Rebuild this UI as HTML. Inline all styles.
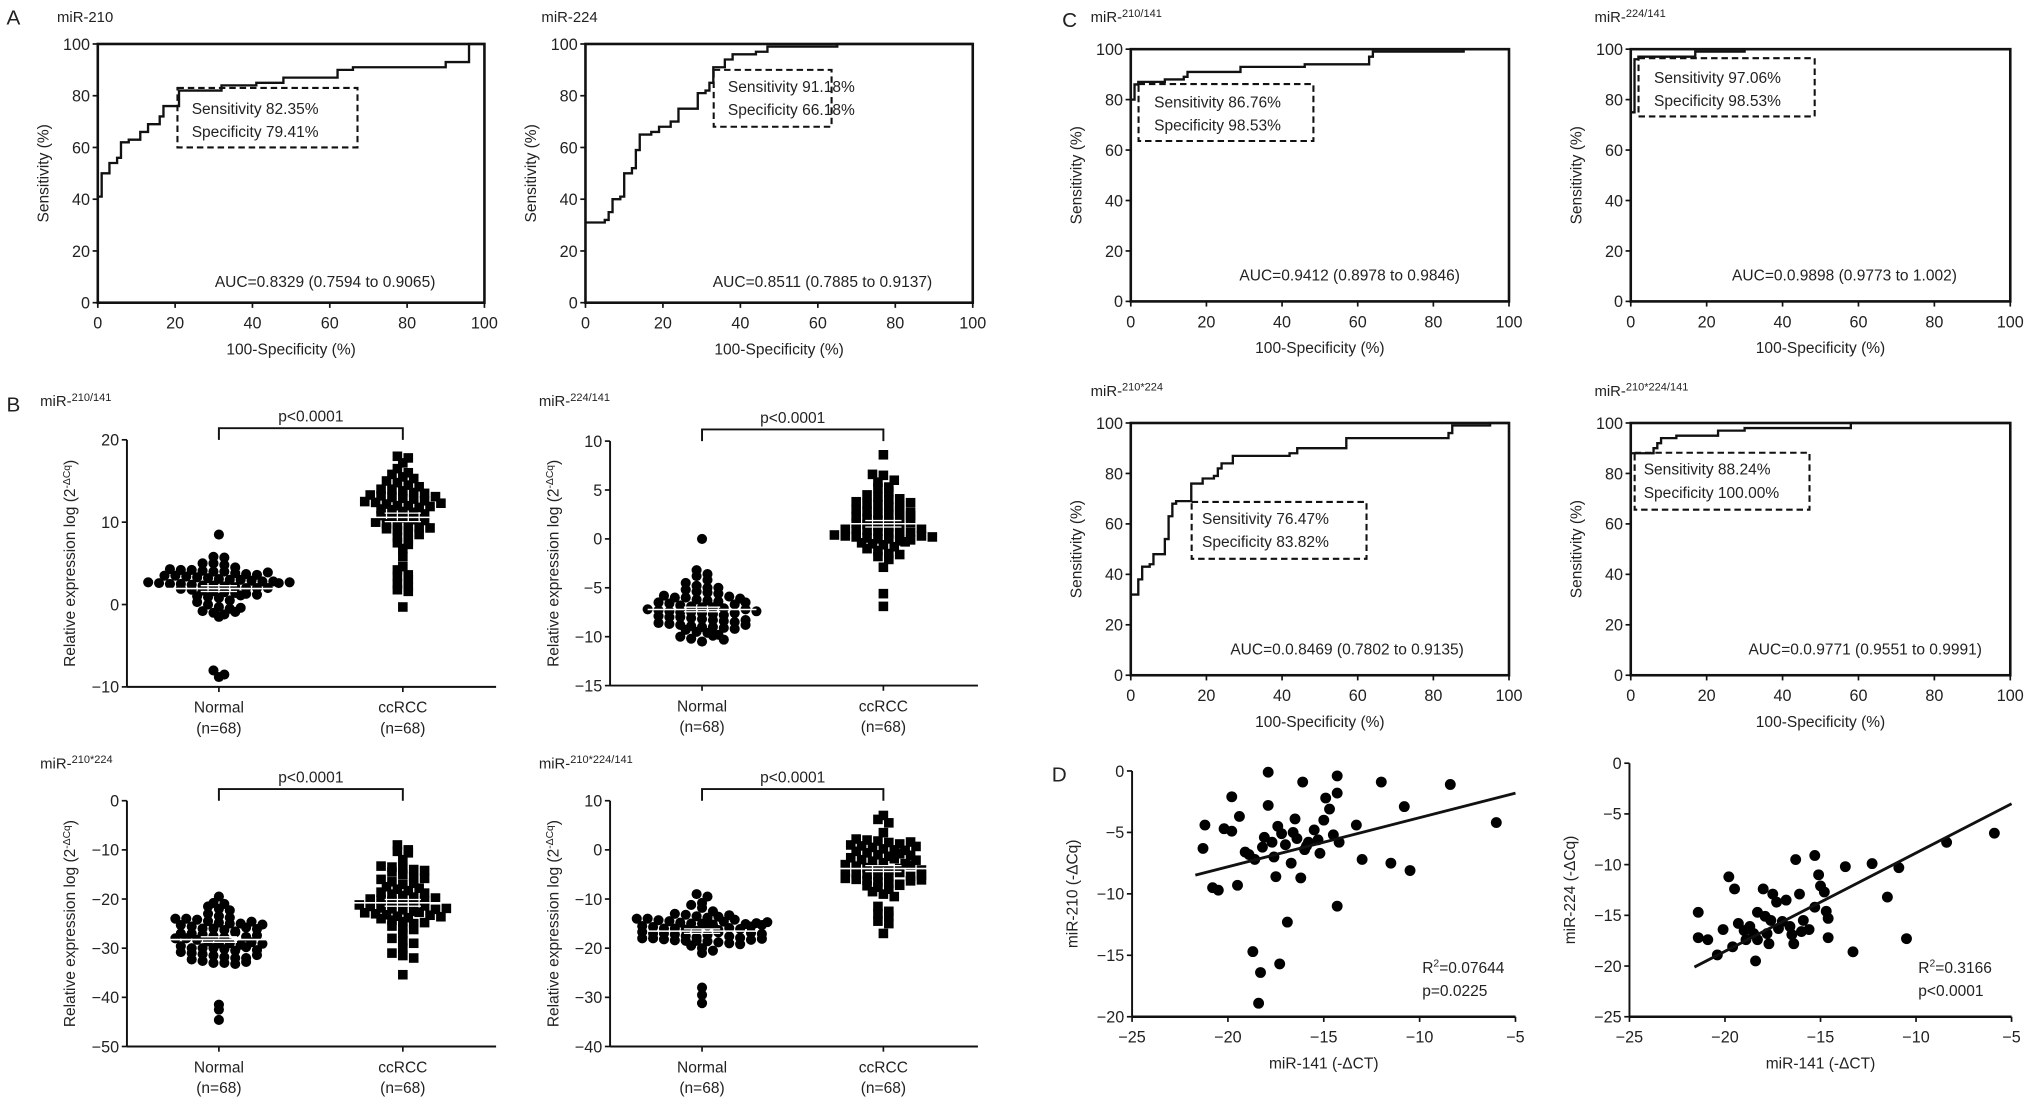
<!DOCTYPE html>
<html><head><meta charset="utf-8"><style>
html,body{margin:0;padding:0;background:#fff;}
svg{display:block;font-family:"Liberation Sans",Arial,sans-serif;}
</style></head><body>
<svg id="fig" width="2031" height="1106" viewBox="0 0 1568 855" preserveAspectRatio="none" xmlns="http://www.w3.org/2000/svg"></svg>
<script>
// ---------- ROC data (x = 100-specificity %, y = sensitivity %) ----------
const rocA1x=[0,0,1,1,3,3,5,5,6,6,8,8,11,11,13,13,16,16,17,17,21,21,32,32,41,41,48,48,62,62,66,66,90,90,96,96,100];
const rocA1y=[40,41,41,50,50,54,54,56,56,62,62,63,63,66,66,69,69,72,72,76,76,82,82,84,84,85,85,87,87,90,90,91,91,93,93,100,100];
const rocA2x=[0,5,5,6,6,7,7,9,9,10,10,12,12,13,13,14,14,17,17,19,19,22,22,24,24,29,29,31,31,32,32,33,33,36,36,38,38,44,44,47,47,65,65,100];
const rocA2y=[31,31,32,32,35,35,40,40,41,41,50,50,52,52,59,59,65,65,66,66,68,68,70,70,75,75,81,81,82,82,85,85,91,91,94,94,96,96,97,97,99,99,100,100];
const rocC1x=[0,1,1,2,2,9,9,14,14,15,15,29,29,46,46,63,63,64,64,88,88,100];
const rocC1y=[80,80,86,86,87,87,88,88,89,89,91,91,93,93,94,94,97,97,99,99,100,100];
const rocC2x=[0,1,1,2,2,17,17,30,30,100];
const rocC2y=[75,75,96,96,97,97,99,99,100,100];
const rocC3x=[0,2,2,3,3,5,5,6,6,9,9,10,10,11,11,12,12,16,16,19,19,22,22,23,23,24,24,27,27,42,42,44,44,57,57,84,84,85,85,95,95,100];
const rocC3y=[32,32,38,38,43,43,44,44,48,48,54,54,63,63,68,68,69,69,76,76,78,78,79,79,82,82,84,84,87,87,88,88,90,90,94,94,96,96,99,99,100,100];
const rocC4x=[0,6,6,7,7,8,8,12,12,23,23,30,30,58,58,100];
const rocC4y=[88,88,90,90,92,92,94,94,95,95,97,97,98,98,100,100];
const rocTicks=[0,20,40,60,80,100];

// ---------- Dot-plot data (relative expression) ----------
const groupLabels=["Normal","ccRCC"];
const b1Normal=[8.5,5.8,5.7,5.0,5.0,4.8,4.5,4.3,4.2,4.2,4.1,4.0,4.0,3.8,3.7,3.6,3.5,3.5,3.4,3.3,3.2,3.1,3.0,3.0,2.9,2.8,2.8,2.7,2.6,2.5,2.5,2.4,2.3,2.3,2.2,2.1,2.0,2.0,2.0,1.9,1.8,1.7,1.6,1.5,1.4,1.3,1.2,1.0,0.9,0.8,0.5,0.3,0.0,-0.3,-0.5,-0.8,-1.0,-1.2,-1.5,-0.9,-0.4,2.6,3.9,1.1,2.7,-8.0,-8.5,-8.8];
const b1ccRCC=[18,17.8,17.2,16.5,16,15.8,15.5,15.3,15,14.8,14.5,14.3,14,14,13.8,13.6,13.5,13.3,13.2,13,12.9,12.8,12.6,12.5,12.4,12.2,12,12,11.8,11.6,11.5,11.3,11.2,11,10.8,10.6,10.5,10.3,10.2,10,9.8,9.6,9.5,9.4,9.3,9.2,9.0,8.8,8.5,8.2,7.8,7.5,7.3,6.8,5.8,4.6,4.2,3.6,3.4,3.0,2.5,2.2,1.8,1.6,-0.3,11.9,12.3,13.1];
const b2Normal=[0,-3.2,-3.6,-3.8,-4.2,-4.5,-4.8,-5,-5,-5.2,-5.4,-5.5,-5.6,-5.8,-6,-6,-6.2,-6.3,-6.4,-6.5,-6.6,-6.8,-6.9,-7,-7,-7.1,-7.2,-7.3,-7.4,-7.5,-7.5,-7.6,-7.7,-7.8,-7.9,-8,-8,-8.1,-8.2,-8.3,-8.4,-8.5,-8.6,-8.7,-8.8,-8.9,-9,-9,-9.1,-9.2,-9.3,-9.5,-9.6,-9.8,-10,-10.2,-10.5,-7.6,-6.7,-5.9,-8.3,-7.2,-6.1,-9.9,-10.3,-8.8,-7.4,-6.5];
const b2ccRCC=[8.6,6.6,6.5,6.0,5.8,5.3,5.2,4.8,4.5,4.3,4.0,3.8,3.6,3.5,3.3,3.0,2.8,2.6,2.5,2.3,2.0,1.9,1.8,1.6,1.5,1.3,1.2,1.0,1.0,0.9,0.8,0.6,0.5,0.4,0.3,0.2,0.1,0,0,-0.2,-0.4,-0.5,-0.6,-0.8,-1.0,-1.2,-1.5,-1.6,-1.8,-2.1,-2.9,-5.6,-6.9,2.2,2.9,3.2,0.7,-0.1,1.4,4.1,2.4,1.1,0.3,-0.3,3.7,2.7,1.7,0.2];
const b3Normal=[-19.5,-20.8,-21,-21.5,-22,-22.3,-23,-23.5,-24,-24,-24.2,-24.5,-24.8,-25,-25,-25.3,-25.6,-26,-26,-26.3,-26.6,-27,-27,-27.2,-27.5,-27.8,-28,-28,-28.3,-28.6,-29,-29,-29.3,-29.6,-30,-30,-30,-30.2,-30.5,-30.8,-31,-31.2,-31.5,-31.8,-32,-32,-32.3,-32.6,-33,-33,-33.2,-26.8,-25.8,-24.6,-27.7,-29.8,-28.8,-31.4,-30.4,-25.2,-23.8,-26.1,-27.4,-29.1,-41.5,-42.5,-44.6,-32.8];
const b3ccRCC=[-9,-10,-10.3,-10.6,-12,-13.3,-13.5,-13.8,-14,-14.2,-14.5,-15,-15.5,-16,-16.5,-17,-17.5,-18,-18.3,-18.6,-19,-19.3,-19.6,-20,-20.2,-20.5,-20.8,-21,-21.2,-21.5,-21.8,-22,-22.2,-22.5,-22.8,-23,-23.2,-23.5,-23.8,-24,-24.3,-24.6,-25,-25.5,-26,-26.2,-27,-28,-28.5,-29,-30,-31,-31.5,-32,-35.4,-21.4,-22.7,-20.3,-23.3,-19.8,-24.8,-17.8,-16.8,-22.1,-21.9,-23.6,-18.8,-15.8];
const b4Normal=[-9,-9.5,-10.8,-11.2,-11.8,-12.5,-13,-13.2,-13.5,-13.8,-14,-14,-14.3,-14.5,-14.8,-15,-15,-15.2,-15.5,-15.7,-16,-16,-16.2,-16.5,-16.7,-17,-17,-17.2,-17.5,-17.8,-18,-18,-18.2,-18.4,-18.5,-18.5,-18.6,-18.8,-19,-19.2,-19.5,-20,-20.5,-21,-14.6,-15.4,-16.3,-17.3,-15.9,-14.2,-16.8,-18.3,-13.6,-15.1,-17.6,-16.1,-14.9,-15.6,-13.3,-18.1,-28,-29.5,-31.2,-17.9,-16.9,-15.3,-14.7,-17.1];
const b4ccRCC=[7,6.2,5.5,3.5,2.2,2,1.8,1.5,1.2,1,0.8,0.5,0.2,0,-0.3,-0.6,-1,-1.3,-1.6,-2,-2.3,-2.6,-3,-3.3,-3.6,-4,-4.2,-4.5,-4.8,-5,-5.2,-5.5,-5.8,-6,-6.2,-6.5,-6.8,-7,-7.3,-7.6,-8,-8.5,-9,-9.5,-11.5,-12.5,-13,-13.5,-14.5,-15,-17,-0.8,-1.8,-2.8,-3.8,-4.6,-5.4,-6.3,-7.2,-1.1,-2.1,-3.1,-4.1,-5.1,-6.1,-0.1,0.7,1.6];
const b1Ticks=[-10,0,10,20];
const b2Ticks=[-15,-10,-5,0,5,10];
const b3Ticks=[-50,-40,-30,-20,-10,0];
const b4Ticks=[-40,-30,-20,-10,0,10];

// ---------- Scatter data (D) ----------
const d1x=[-21.3,-21.2,-20.8,-20.5,-20.2,-19.8,-19.8,-19.5,-19.4,-19.1,-18.9,-18.6,-18.7,-18.3,-18.4,-18.1,-17.9,-17.9,-17.7,-17.6,-17.5,-17.3,-17.4,-17.2,-16.9,-16.7,-16.5,-16.4,-16.2,-16.1,-16.0,-15.8,-15.5,-15.2,-15.0,-14.9,-14.7,-14.5,-14.3,-14.3,-14.3,-14.2,-13.3,-13.0,-12.0,-11.5,-10.8,-10.5,-8.4,-6.0,-17.0,-16.6,-15.9,-18.2,-15.3];
const d1y=[-6.3,-4.4,-9.5,-9.7,-4.7,-4.9,-2.1,-9.3,-3.7,-6.6,-6.8,-7.2,-14.7,-16.4,-18.9,-5.4,-0.1,-2.8,-5.8,-7.0,-8.6,-15.7,-4.5,-5.1,-12.3,-7.5,-3.9,-5.5,-8.7,-0.9,-6.4,-5.8,-4.8,-6.7,-4.0,-2.2,-3.1,-5.2,-1.8,-0.4,-11.0,-5.8,-4.4,-7.2,-0.9,-7.5,-2.9,-8.1,-1.1,-4.2,-6.0,-5.0,-6.1,-6.2,-5.6];
const d2x=[-21.4,-21.4,-20.9,-20.4,-20.1,-19.8,-19.5,-19.6,-19.3,-19.0,-18.9,-18.7,-18.4,-18.3,-18.3,-18.0,-17.9,-17.8,-17.7,-17.5,-17.3,-17.0,-16.8,-16.6,-16.5,-16.4,-16.3,-16.1,-15.9,-15.6,-15.3,-15.3,-15.1,-15.0,-14.8,-14.7,-14.6,-14.6,-13.7,-13.3,-12.3,-11.5,-10.9,-10.5,-8.4,-5.9,-18.5,-17.2,-16.0,-17.6];
const d2y=[-14.7,-17.2,-17.4,-18.9,-16.4,-11.2,-12.4,-18.1,-15.8,-16.5,-17.4,-16.1,-19.5,-14.7,-17.4,-12.4,-15.1,-16.8,-17.8,-12.9,-13.7,-15.6,-13.5,-16.1,-16.9,-17.8,-9.5,-12.9,-15.5,-16.4,-14.2,-9.1,-11.0,-12.1,-12.7,-14.6,-17.2,-15.3,-10.2,-18.6,-9.9,-13.2,-10.3,-17.3,-7.8,-6.9,-16.8,-16.3,-16.6,-15.5];
// fitted regression lines as printed: [slope, intercept, start x]
const d1Fit=[0.40,0.2,-21.7];
const d2Fit=[0.97,0.85,-21.6];
const dxTicks=[-25,-20,-15,-10,-5];
const d1yTicks=[-20,-15,-10,-5,0];
const d2yTicks=[-25,-20,-15,-10,-5,0];

const NS="http://www.w3.org/2000/svg";
const svg=document.getElementById('fig');
function el(tag,attrs,parent,name){
  const e=document.createElementNS(NS,tag);
  for(const k in attrs)e.setAttribute(k,attrs[k]);
  
  
  (parent||svg).appendChild(e);return e;
}
function txt(x,y,s,size,anchor,parent,name,extra){
  const t=el('text',Object.assign({x:x,y:y,'font-size':size,'text-anchor':anchor||'start',fill:'#222'},extra||{}),parent,name);
  t.textContent=s;return t;
}
function mirTitle(x,y,base,sup,parent){
  const t=el('text',{x:x,y:y,'font-size':11.5,fill:'#222'},parent,'panel-title');
  t.textContent=base;
  if(sup){const s=el('tspan',{dy:-4,'font-size':8.5},t,'title-superscript');s.textContent=sup;}
}

function roc(cfg){
  const g=el('g',{},svg,cfg.name);
  const X=v=>cfg.x0+(cfg.x1-cfg.x0)*v/100, Y=v=>cfg.y1-(cfg.y1-cfg.y0)*v/100;
  el('rect',{x:cfg.x0,y:cfg.y0,width:cfg.x1-cfg.x0,height:cfg.y1-cfg.y0,fill:'none',stroke:'#111','stroke-width':2},g,'plot-frame');
  rocTicks.forEach(t=>{
    el('line',{x1:X(t),y1:cfg.y1,x2:X(t),y2:cfg.y1+4,stroke:'#111','stroke-width':1.3},g,'x-tick');
    txt(X(t),cfg.y1+20,String(t),12.5,'middle',g,'x-tick-label');
    el('line',{x1:cfg.x0-4,y1:Y(t),x2:cfg.x0,y2:Y(t),stroke:'#111','stroke-width':1.3},g,'y-tick');
    txt(cfg.x0-6,Y(t)+4.5,String(t),12.5,'end',g,'y-tick-label');
  });
  txt((cfg.x0+cfg.x1)/2,cfg.y1+40,'100-Specificity (%)',12,'middle',g,'x-axis-title');
  const yl=(cfg.y0+cfg.y1)/2;
  txt(cfg.x0-38,yl,'Sensitivity (%)',12,'middle',g,'y-axis-title',{transform:'rotate(-90 '+(cfg.x0-38)+' '+yl+')'});
  let d='';
  cfg.xs.forEach((v,i)=>{d+=(i?'L':'M')+X(v).toFixed(1)+','+Y(cfg.ys[i]).toFixed(1);});
  el('path',{d:d,fill:'none',stroke:'#111','stroke-width':1.8},g,'roc-curve');
  const b=cfg.box;
  el('rect',{x:b[0],y:b[1],width:b[2]-b[0],height:b[3]-b[1],fill:'none',stroke:'#111','stroke-width':1.6,'stroke-dasharray':'5,3'},g,'cutoff-box');
  txt(b[0]+cfg.tx,b[1]+cfg.ty,cfg.sens,12,'start',g,'sensitivity-label');
  txt(b[0]+cfg.tx,b[1]+cfg.ty+18,cfg.spec,12,'start',g,'specificity-label');
  txt(cfg.aucX,cfg.aucY,cfg.auc,12,'middle',g,'auc-label');
  mirTitle(cfg.tX,cfg.tY,cfg.tBase,cfg.tSup,g);
}

roc({name:'roc-mir210',x0:75.5,x1:374,y0:34,y1:234,xs:rocA1x,ys:rocA1y,box:[137,68,276,114],tx:11,ty:20,sens:'Sensitivity 82.35%',spec:'Specificity 79.41%',auc:'AUC=0.8329 (0.7594 to 0.9065)',aucX:251,aucY:222,tX:44,tY:17,tBase:'miR-210'});
roc({name:'roc-mir224',x0:452,x1:751,y0:34,y1:234,xs:rocA2x,ys:rocA2y,box:[551,54,642,98],tx:11,ty:17,sens:'Sensitivity 91.18%',spec:'Specificity 66.18%',auc:'AUC=0.8511 (0.7885 to 0.9137)',aucX:635,aucY:222,tX:418,tY:17,tBase:'miR-224'});
roc({name:'roc-mir210-141',x0:873,x1:1165,y0:38,y1:233,xs:rocC1x,ys:rocC1y,box:[879,65,1014,109],tx:12,ty:18,sens:'Sensitivity 86.76%',spec:'Specificity 98.53%',auc:'AUC=0.9412 (0.8978 to 0.9846)',aucX:1042,aucY:217,tX:842,tY:17,tBase:'miR-',tSup:'210/141'});
roc({name:'roc-mir224-141',x0:1259,x1:1552,y0:38,y1:233,xs:rocC2x,ys:rocC2y,box:[1265,45,1401,90],tx:12,ty:19,sens:'Sensitivity 97.06%',spec:'Specificity 98.53%',auc:'AUC=0.0.9898 (0.9773 to 1.002)',aucX:1424,aucY:217,tX:1231,tY:17,tBase:'miR-',tSup:'224/141'});
roc({name:'roc-mir210x224',x0:873,x1:1165,y0:327,y1:522,xs:rocC3x,ys:rocC3y,box:[920,388,1055,432],tx:8,ty:17,sens:'Sensitivity 76.47%',spec:'Specificity 83.82%',auc:'AUC=0.0.8469 (0.7802 to 0.9135)',aucX:1040,aucY:506,tX:842,tY:306,tBase:'miR-',tSup:'210*224'});
roc({name:'roc-mir210x224-141',x0:1259,x1:1552,y0:327,y1:522,xs:rocC4x,ys:rocC4y,box:[1262,350,1397,394],tx:7,ty:17,sens:'Sensitivity 88.24%',spec:'Specificity 100.00%',auc:'AUC=0.0.9771 (0.9551 to 0.9991)',aucX:1440,aucY:506,tX:1231,tY:306,tBase:'miR-',tSup:'210*224/141'});

function dotplot(cfg){
  const g=el('g',{},svg,cfg.name);
  const Y=v=>cfg.yB-(cfg.yB-cfg.yT)*(v-cfg.vmin)/(cfg.vmax-cfg.vmin);
  el('line',{x1:cfg.ax,y1:cfg.yT,x2:cfg.ax,y2:cfg.yB,stroke:'#111','stroke-width':1.5},g,'y-axis');
  el('line',{x1:cfg.ax,y1:cfg.yB,x2:cfg.xEnd,y2:cfg.yB,stroke:'#111','stroke-width':1.5},g,'x-axis');
  cfg.ticks.forEach(t=>{
    el('line',{x1:cfg.ax-4,y1:Y(t),x2:cfg.ax,y2:Y(t),stroke:'#111','stroke-width':1.3},g,'y-tick');
    txt(cfg.ax-6,Y(t)+4.5,t<0?'\u2212'+(-t):String(t),12.5,'end',g,'y-tick-label');
  });
  const yl=(cfg.yT+cfg.yB)/2, lx=cfg.ax-40;
  const ylab=el('text',{x:lx,y:yl,'font-size':12,'text-anchor':'middle',fill:'#222',transform:'rotate(-90 '+lx+' '+yl+')'},g,'y-axis-title');
  ylab.textContent='Relative expression log (2';
  const sp=el('tspan',{dy:-4,'font-size':8},ylab,'y-axis-title-superscript');sp.textContent='-\u0394Cq';
  const sp2=el('tspan',{dy:4},ylab,'y-axis-title-end');sp2.textContent=')';
  const gx=[cfg.gN,cfg.gC];
  [cfg.N,cfg.C].forEach((vals,gi)=>{
    const cx=gx[gi];
    el('line',{x1:cx,y1:cfg.yB,x2:cx,y2:cfg.yB+4,stroke:'#111','stroke-width':1.3},g,'x-tick');
    txt(cx,cfg.yB+20,groupLabels[gi],12,'middle',g,'group-label');
    txt(cx,cfg.yB+36,'(n='+vals.length+')',12,'middle',g,'group-n-label');
    const rows={};
    vals.forEach(v=>{const k=Math.round(Y(v)/5.2);(rows[k]=rows[k]||[]).push(v);});
    Object.keys(rows).forEach(k=>{
      const r=rows[k];
      r.forEach((v,i)=>{
        const px=cx+(i-(r.length-1)/2)*8.4, py=Y(v);
        if(gi===0){el('circle',{cx:px,cy:py,r:3.9,fill:'#000'},g,'normal-point');}
        else{el('rect',{x:px-3.7,y:py-3.7,width:7.4,height:7.4,fill:'#000'},g,'ccrcc-point');}
      });
    });
    const m=vals.reduce((a,b)=>a+b,0)/vals.length;
    const sd=Math.sqrt(vals.reduce((a,b)=>a+(b-m)*(b-m),0)/(vals.length-1));
    const se=sd/Math.sqrt(vals.length);
    el('line',{x1:cx-42,y1:Y(m),x2:cx+42,y2:Y(m),stroke:'#fff','stroke-width':1.2},g,'mean-line');
    el('line',{x1:cx-14,y1:Y(m+se),x2:cx+14,y2:Y(m+se),stroke:'#fff','stroke-width':1},g,'sem-upper');
    el('line',{x1:cx-14,y1:Y(m-se),x2:cx+14,y2:Y(m-se),stroke:'#fff','stroke-width':1},g,'sem-lower');
  });
  const by=cfg.yT-9;
  el('path',{d:'M'+cfg.gN+','+(by+9)+'V'+by+'H'+cfg.gC+'V'+(by+9),fill:'none',stroke:'#111','stroke-width':1.5},g,'significance-bracket');
  txt((cfg.gN+cfg.gC)/2,by-5,'p<0.0001',12,'middle',g,'p-value-label');
  mirTitle(cfg.tX,cfg.tY,'miR-',cfg.tSup,g);
}
dotplot({name:'dotplot-mir210-141',ax:98,xEnd:383,yT:340,yB:531,vmin:-10,vmax:20,ticks:b1Ticks,gN:169,gC:311,N:b1Normal,C:b1ccRCC,tX:31,tY:314,tSup:'210/141'});
dotplot({name:'dotplot-mir224-141',ax:471,xEnd:755,yT:341,yB:530,vmin:-15,vmax:10,ticks:b2Ticks,gN:542,gC:682,N:b2Normal,C:b2ccRCC,tX:416,tY:314,tSup:'224/141'});
dotplot({name:'dotplot-mir210x224',ax:98,xEnd:383,yT:619,yB:809,vmin:-50,vmax:0,ticks:b3Ticks,gN:169,gC:311,N:b3Normal,C:b3ccRCC,tX:31,tY:594,tSup:'210*224'});
dotplot({name:'dotplot-mir210x224-141',ax:471,xEnd:755,yT:619,yB:809,vmin:-40,vmax:10,ticks:b4Ticks,gN:542,gC:682,N:b4Normal,C:b4ccRCC,tX:416,tY:594,tSup:'210*224/141'});

function scatter(cfg){
  const g=el('g',{},svg,cfg.name);
  const X=v=>cfg.x0+(cfg.x1-cfg.x0)*(v+25)/20;
  const Y=v=>cfg.yB-(cfg.yB-cfg.yT)*(v-cfg.vmin)/(0-cfg.vmin);
  el('line',{x1:cfg.x0,y1:cfg.yT,x2:cfg.x0,y2:cfg.yB,stroke:'#111','stroke-width':1.5},g,'y-axis');
  el('line',{x1:cfg.x0,y1:cfg.yB,x2:cfg.x1,y2:cfg.yB,stroke:'#111','stroke-width':2},g,'x-axis');
  dxTicks.forEach(t=>{
    el('line',{x1:X(t),y1:cfg.yB,x2:X(t),y2:cfg.yB+4,stroke:'#111','stroke-width':1.3},g,'x-tick');
    txt(X(t),cfg.yB+20,'\u2212'+(-t),12.5,'middle',g,'x-tick-label');
  });
  cfg.yt.forEach(t=>{
    el('line',{x1:cfg.x0-4,y1:Y(t),x2:cfg.x0,y2:Y(t),stroke:'#111','stroke-width':1.3},g,'y-tick');
    txt(cfg.x0-6,Y(t)+4.5,t<0?'\u2212'+(-t):String(t),12.5,'end',g,'y-tick-label');
  });
  cfg.xs.forEach((v,i)=>{el('circle',{cx:X(v),cy:Y(cfg.ys[i]),r:4.2,fill:'#000'},g,'scatter-point');});
  const f=cfg.fit;
  el('line',{x1:X(f[2]),y1:Y(f[1]+f[0]*f[2]),x2:X(-5),y2:Y(f[1]+f[0]*-5),stroke:'#111','stroke-width':2.2},g,'regression-line');
  txt((cfg.x0+cfg.x1)/2,cfg.yB+40,'miR-141 (-\u0394CT)',12,'middle',g,'x-axis-title');
  const yl=(cfg.yT+cfg.yB)/2,lx=cfg.x0-42;
  txt(lx,yl,cfg.ylab,12,'middle',g,'y-axis-title',{transform:'rotate(-90 '+lx+' '+yl+')'});
  const r=el('text',{x:cfg.x1-72,y:cfg.yB-34,'font-size':12,fill:'#222'},g,'r-squared-label');
  r.textContent='R';const s=el('tspan',{dy:-5,'font-size':8},r,'r-squared-sup');s.textContent='2';
  const s2=el('tspan',{dy:5},r,'r-squared-value');s2.textContent=cfg.r2;
  txt(cfg.x1-72,cfg.yB-16,cfg.p,12,'start',g,'p-value-label');
}
scatter({name:'scatter-mir210',x0:874,x1:1170,yT:596,yB:786,vmin:-20,yt:d1yTicks,xs:d1x,ys:d1y,fit:d1Fit,ylab:'miR-210 (-\u0394Cq)',r2:'=0.07644',p:'p=0.0225'});
scatter({name:'scatter-mir224',x0:1258,x1:1553,yT:590,yB:786,vmin:-25,yt:d2yTicks,xs:d2x,ys:d2y,fit:d2Fit,ylab:'miR-224 (-\u0394Cq)',r2:'=0.3166',p:'p<0.0001'});

txt(5,19,'A',16,'start',svg,'panel-letter-a');
txt(5,318,'B',16,'start',svg,'panel-letter-b');
txt(820,21,'C',16,'start',svg,'panel-letter-c');
txt(812,604,'D',16,'start',svg,'panel-letter-d');
</script>
</body></html>
